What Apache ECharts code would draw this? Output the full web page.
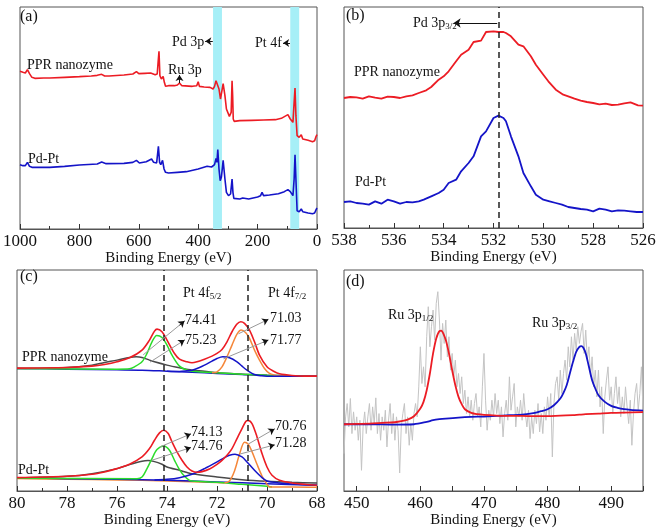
<!DOCTYPE html>
<html><head><meta charset="utf-8">
<script src="https://cdn.jsdelivr.net/npm/echarts@6/dist/echarts.min.js"></script>
<style>html,body{margin:0;padding:0;background:#fff}#c{width:661px;height:532px}</style>
</head><body><div id="c"></div><script>
// ---------- Panel (a): XPS survey [binding energy eV, intensity a.u.]
const surveyPPR = [[1000,473],[990,470],[982,468],[975,478],[968,466],[960,455],[950,452],[920,453],[900,453],[850,455],[800,457],[760,459],[740,461],[725,464],[715,459],[700,459],[650,462],[620,465],[608,472],[600,466],[580,467],[560,468],[545,463],[538,465],[535,500],[532,533],[529,460],[524,450],[518,458],[514,440],[510,428],[500,430],[480,430],[470,432],[463,438],[455,430],[420,428],[405,430],[400,442],[396,428],[380,426],[360,425],[350,420],[345,428],[340,445],[334,450],[330,420],[325,390],[321,395],[316,436],[313,436],[310,400],[305,360],[295,338],[291,336],[289,350],[286,445],[284,400],[282,330],[279,323],[260,325],[220,326],[180,327],[140,328],[120,332],[98,343],[90,330],[81,320],[77,380],[74,423],[71,340],[67,280],[60,275],[53,283],[48,270],[30,266],[15,262],[8,265],[3,278],[0,283]];
const surveyPdPt = [[1000,193],[990,190],[982,190],[975,200],[968,188],[960,185],[900,185],[850,188],[800,192],[740,195],[725,201],[710,196],[650,197],[620,200],[608,206],[598,198],[575,202],[557,210],[550,200],[540,198],[534,248],[530,200],[526,193],[520,206],[515,180],[510,170],[500,168],[470,170],[440,172],[400,180],[370,188],[355,186],[345,193],[340,212],[337,200],[334,238],[330,180],[326,145],[322,155],[316,206],[313,200],[310,150],[305,110],[298,100],[291,105],[286,150],[283,110],[280,92],[260,90],[250,93],[230,90],[200,96],[190,100],[185,110],[180,100],[160,102],[130,106],[110,112],[98,118],[90,112],[81,100],[77,150],[74,223],[71,150],[67,55],[60,52],[53,60],[48,52],[30,48],[15,46],[8,48],[3,58],[0,63]];
const surveyBands = [[350,320],[90,60]];

// ---------- Panel (b): Pd 3p3/2 region
const pdPPR = [[538,390],[537.75,393],[537.5,392],[537.25,388],[537,395],[536.75,391],[536.5,388],[536.25,394],[536,393],[535.75,390],[535.5,395],[535.25,398],[535,405],[534.7,413],[534.5,423],[534.2,445],[534,455],[533.8,470],[533.5,500],[533.3,520],[533,535],[532.8,558],[532.5,562],[532.3,588],[532,590],[531.8,588],[531.6,588],[531.5,585],[531.3,575],[531,550],[530.8,545],[530.5,515],[530.3,490],[530,460],[529.8,440],[529.5,415],[529.2,400],[529,395],[528.75,388],[528.5,382],[528.25,378],[528,375],[527.75,371],[527.5,373],[527.25,369],[527,370],[526.75,374],[526.5,377],[526.2,368],[526,367]];
const pdPdPt = [[538,78],[537.75,80],[537.5,75],[537.25,73],[537,70],[536.75,80],[536.5,73],[536.25,85],[536,80],[535.75,73],[535.5,78],[535.25,77],[535,80],[534.8,85],[534.5,95],[534.2,105],[534,115],[533.8,135],[533.5,145],[533.3,170],[533,195],[532.8,215],[532.5,275],[532.3,290],[532,330],[531.8,337],[531.6,330],[531.5,320],[531.3,275],[531,215],[530.8,165],[530.5,125],[530.3,100],[530,85],[529.75,80],[529.5,75],[529.25,70],[529,63],[528.75,60],[528.5,57],[528.25,55],[528,50],[527.75,58],[527.5,55],[527.25,50],[527,53],[526.75,52],[526.5,50],[526.25,48],[526,48]];
const pdRef = 531.8;

// ---------- Panel (c): Pt 4f fits
const ptPPR_env = [[80,368],[78,370],[77,374],[76.5,379],[76,387],[75.5,399],[75,422],[74.7,452],[74.5,479],[74.4,485],[74.2,477],[74,452],[73.7,412],[73.5,395],[73.2,387],[73,384],[72.8,387],[72.5,395],[72.2,404],[72,412],[71.8,424],[71.6,447],[71.4,477],[71.2,500],[71.05,507],[70.9,502],[70.7,482],[70.5,447],[70.3,407],[70,372],[69.7,357],[69.5,351],[69,346],[68.5,344],[68,344]];
const ptPPR_bg = [[80,367],[78,365],[76,363],[75,362],[74,359],[73,356],[72,352],[71,349],[70,346],[69,345],[68,344]];
const ptPPR_7441 = [[80,367],[76,365],[75.5,366],[75.3,372],[75,387],[74.8,412],[74.6,447],[74.41,466],[74.2,460],[74,437],[73.8,407],[73.5,374],[73.2,362],[73,359],[72,354],[71,350],[70,347],[69,345],[68,344]];
const ptPPR_7523 = [[80,367],[78,370],[77,377],[76.5,385],[76,392],[75.5,400],[75.23,402],[75,400],[74.7,392],[74.5,387],[74,377],[73.5,369],[73,362],[72.5,359],[72,354],[71,350],[70,347],[68,344]];
const ptPPR_7103 = [[72.2,354],[72,357],[71.8,372],[71.6,402],[71.4,437],[71.2,470],[71.03,482],[70.85,474],[70.7,457],[70.5,422],[70.3,392],[70.1,367],[69.9,352],[69.7,347],[69.5,345],[69,344],[68,344]];
const ptPPR_7177 = [[74,359],[73.5,358],[73.2,360],[73,362],[72.7,370],[72.5,377],[72.2,389],[72,397],[71.77,402],[71.5,399],[71.2,387],[71,374],[70.8,362],[70.5,349],[70.2,345],[70,344],[68,344]];

const ptPdPt_env = [[80,40],[78,44],[77,50],[76.5,57],[76,67],[75.5,80],[75,102],[74.7,127],[74.5,152],[74.3,174],[74.13,182],[73.95,172],[73.8,147],[73.6,117],[73.4,92],[73.2,72],[73,60],[72.8,56],[72.6,58],[72.3,66],[72,80],[71.8,92],[71.6,107],[71.4,127],[71.2,157],[71,187],[70.85,208],[70.76,211],[70.6,202],[70.4,162],[70.2,112],[70,72],[69.8,47],[69.5,32],[69,24],[68.5,20],[68,17]];
const ptPdPt_bg = [[80,39],[78,37],[76,35],[74,32],[72,27],[70,22],[68,17]];
const ptPdPt_bg2 = [[80,37],[78,35],[76,33],[74,30],[72,25],[71.7,24]];
const ptPdPt_7413 = [[80,38],[75.2,37],[75,42],[74.8,67],[74.6,97],[74.4,124],[74.13,135],[73.9,122],[73.7,92],[73.5,64],[73.3,44],[73.1,32],[73,30],[72,26],[71,20],[70,14],[69.8,12]];
const ptPdPt_7476 = [[80,39],[78,44],[77,52],[76,67],[75.5,79],[75,89],[74.76,91],[74.5,88],[74.2,80],[74,72],[73.5,62],[73,52],[72,42],[71,34],[70,29],[69,26],[68,24]];
const ptPdPt_7076 = [[71.7,24],[71.5,30],[71.3,60],[71.1,110],[70.9,146],[70.75,140],[70.6,118],[70.4,80],[70.2,45],[70,20],[69.9,12],[69,12],[68,11]];
const ptPdPt_7128 = [[74.5,33],[74,35],[73.5,40],[73,50],[72.5,67],[72,87],[71.7,100],[71.5,107],[71.28,110],[71,102],[70.8,87],[70.5,62],[70.2,40],[70,30],[69.5,24],[69,21],[68,17]];
const ptRefs = [74.13, 70.76];
const ptPeakLabels = ['74.41','75.23','71.03','71.77','74.13','74.76','70.76','71.28'];

// ---------- Panel (d): Ru 3p
const ruRaw = [[448,112],[448.25,222],[448.5,262],[448.75,192],[449,277],[449.25,172],[449.5,237],[449.75,182],[450,222],[450.25,152],[450.5,212],[450.75,62],[451,192],[451.25,237],[451.5,172],[451.75,222],[452,262],[452.25,182],[452.5,252],[452.75,202],[453,279],[453.25,172],[453.5,232],[453.75,152],[454,222],[454.25,182],[454.5,242],[454.75,132],[455,212],[455.25,262],[455.5,172],[455.75,232],[456,152],[456.25,222],[456.5,182],[456.75,54],[457,192],[457.25,232],[457.5,262],[457.75,172],[458,222],[458.25,137],[458.5,202],[458.75,152],[459,232],[459.25,262],[459.5,222],[459.75,312],[460,432],[460.25,322],[460.5,372],[460.75,312],[461,462],[461.25,552],[461.5,432],[461.75,492],[462,542],[462.25,452],[462.5,562],[462.75,597],[463,512],[463.25,392],[463.5,502],[463.75,442],[464,512],[464.25,402],[464.5,462],[464.75,362],[465,412],[465.25,342],[465.5,392],[465.75,312],[466,352],[466.25,292],[466.5,342],[466.75,262],[467,302],[467.25,232],[467.5,282],[467.75,222],[468,272],[468.25,212],[468.5,262],[468.75,292],[469,222],[469.25,252],[469.5,192],[469.75,312],[470,412],[470.25,272],[470.5,182],[470.75,242],[471,212],[471.25,272],[471.5,222],[471.75,292],[472,232],[472.25,272],[472.5,202],[472.75,252],[473,162],[473.25,232],[473.5,272],[473.75,212],[474,342],[474.25,242],[474.5,282],[474.75,322],[475,192],[475.25,252],[475.5,222],[475.75,272],[476,212],[476.25,292],[476.5,232],[476.75,192],[477,242],[477.25,157],[477.5,222],[477.75,172],[478,242],[478.25,202],[478.5,262],[478.75,177],[479,232],[479.25,172],[479.5,252],[479.75,212],[480,282],[480.25,222],[480.5,292],[480.75,102],[481,262],[481.25,322],[481.5,342],[481.75,272],[482,362],[482.25,292],[482.5,352],[482.75,392],[483,332],[483.25,432],[483.5,372],[483.75,462],[484,392],[484.25,472],[484.5,422],[484.75,492],[485,442],[485.25,477],[485.5,502],[485.75,412],[486,482],[486.25,392],[486.5,432],[486.75,342],[487,402],[487.25,312],[487.5,362],[487.75,282],[488,362],[488.25,252],[488.5,312],[488.75,172],[489,282],[489.25,332],[489.5,372],[489.75,272],[490,312],[490.25,232],[490.5,292],[490.75,342],[491,262],[491.25,312],[491.5,222],[491.75,282],[492,232],[492.25,312],[492.5,252],[492.75,202],[493,272],[493.25,137],[493.5,232],[493.75,292],[494,322],[494.25,242],[494.5,292],[494.75,372],[495,242]];
const ruFit12 = [[448,200],[450,201],[452,202],[454,204],[456,206],[457,209],[458,214],[459,224],[460,247],[460.5,267],[461,302],[461.5,352],[462,412],[462.5,457],[463,479],[463.3,480],[463.6,472],[464,452],[464.5,412],[465,362],[465.5,317],[466,282],[466.5,260],[467,245],[468,234],[469,230],[470,228],[472,226],[474,225],[476,225],[478,224],[480,224],[482,226],[484,227],[485,229],[486,230],[488,232],[490,234],[492,235],[495,236]];
const ruFit32 = [[448,200],[452,200],[456,199],[459,200],[461,207],[462,212],[463,215],[464,217],[466,220],[468,222],[470,223],[472,225],[474,227],[476,229],[478,234],[479,239],[480,245],[481,257],[482,277],[482.5,294],[483,317],[483.5,352],[484,387],[484.5,417],[485,432],[485.3,434],[485.6,430],[486,412],[486.5,372],[487,332],[487.5,307],[488,287],[489,267],[490,255],[491,249],[492,245],[493,243],[495,241]];
const ruTicks = [450,460,470,480,490];
const ruMinor = [450,455,460,465,470,475,480,485,490,495];

// ---------- styling
const FONT = "'Liberation Serif','Times New Roman',serif";
const RED = '#ec1c24', BLUE = '#1414c8', GREEN = '#2bdc2b', ORANGE = '#f5873a', DARK = '#4a4a4a';
const FRAME = '#555';

function grid(l, t, w, h) { return {left:l, top:t, width:w, height:h, show:true, borderColor:FRAME, borderWidth:1, backgroundColor:'transparent'}; }
function xAx(gi, min, max, interval, extra) {
  return Object.assign({
    gridIndex:gi, type:'value', min:min, max:max, interval:interval, inverse:true,
    axisLine:{lineStyle:{color:FRAME, width:1}},
    axisTick:{inside:true, length:5, lineStyle:{color:'#333'}},
    minorTick:{show:true, splitNumber:2, length:3, lineStyle:{color:'#333'}},
    splitLine:{show:false}, minorSplitLine:{show:false},
    axisLabel:{fontFamily:FONT, fontSize:17, color:'#111', margin:4, formatter: v => String(v)},
    name:'Binding Energy (eV)', nameLocation:'middle', nameGap:21,
    nameTextStyle:{fontFamily:FONT, fontSize:15, color:'#111'}
  }, extra || {});
}
function yAx(gi, max) { return {gridIndex:gi, type:'value', min:0, max:max, show:false}; }
function line(gi, data, color, width, extra) {
  return Object.assign({type:'line', xAxisIndex:gi, yAxisIndex:gi, data:data, symbol:'none', smooth:false,
    lineStyle:{color:color, width:width}, z:3, silent:true}, extra || {});
}
function arrowItems(p0, p1, lineColor, headColor) {
  const f = 0.12;
  const h = [p1[0] + (p0[0]-p1[0])*f, p1[1] + (p0[1]-p1[1])*f];
  return [
    [{coord:p0, symbol:'none', lineStyle:{color:lineColor, width:1, type:'solid'}}, {coord:p1, symbol:'none'}],
    [{coord:h, symbol:'none', lineStyle:{color:headColor, width:1, type:'solid'}}, {coord:p1, symbol:'arrow'}]
  ];
}
function annot(gi, items, size) {
  return {type:'line', xAxisIndex:gi, yAxisIndex:gi, data:[], z:5, silent:true,
    markLine:{silent:true, symbol:['none','arrow'], symbolSize:size||7, label:{show:false}, animation:false, data:items}};
}

const series = [];
// (a)
series.push({type:'line', xAxisIndex:0, yAxisIndex:0, data:[], z:1, silent:true,
  markArea:{silent:true, itemStyle:{color:'#a6eff7'}, data: surveyBands.map(b => [{xAxis:b[0]},{xAxis:b[1]}])}});
series.push(line(0, surveyPPR, RED, 1.6));
series.push(line(0, surveyPdPt, BLUE, 1.6));
series.push(annot(0, [].concat(
  arrowItems([351,563],[376,563],'#111','#111'),
  arrowItems([91,558],[114,558],'#111','#111'),
  arrowItems([463,438],[463,462],'#111','#111')), 6));
// (b)
series.push(line(1, pdPPR, RED, 1.8));
series.push(line(1, pdPdPt, BLUE, 1.8));
series.push({type:'line', xAxisIndex:1, yAxisIndex:1, data:[], z:4, silent:true,
  markLine:{silent:true, symbol:'none', label:{show:false}, lineStyle:{color:'#222', type:[6,4], width:1.5}, data:[{xAxis:pdRef}]}});
series.push(annot(1, arrowItems([531.85,615],[533.6,615],'#111','#111'), 7));
// (c)
const SM = 0.3;
series.push(line(2, ptPPR_bg, BLUE, 1.5, {smooth:SM}));
series.push(line(2, ptPPR_7523, DARK, 1.5, {smooth:SM}));
series.push(line(2, ptPPR_7441, GREEN, 1.5, {smooth:SM}));
series.push(line(2, ptPPR_7103, ORANGE, 1.5, {smooth:SM}));
series.push(line(2, ptPPR_7177, BLUE, 1.5, {smooth:SM}));
series.push(line(2, ptPPR_env, RED, 1.6, {smooth:SM}));
series.push(line(2, ptPdPt_bg2, ORANGE, 1.3, {smooth:SM}));
series.push(line(2, ptPdPt_bg, BLUE, 1.5, {smooth:SM}));
series.push(line(2, ptPdPt_7476, DARK, 1.5, {smooth:SM}));
series.push(line(2, ptPdPt_7413, GREEN, 1.5, {smooth:SM}));
series.push(line(2, ptPdPt_7076, ORANGE, 1.5, {smooth:SM}));
series.push(line(2, ptPdPt_7128, BLUE, 1.5, {smooth:SM}));
series.push(line(2, ptPdPt_env, RED, 1.6, {smooth:SM}));
series.push({type:'line', xAxisIndex:2, yAxisIndex:2, data:[], z:4, silent:true,
  markLine:{silent:true, symbol:'none', label:{show:false}, lineStyle:{color:'#222', type:[6,4], width:1.5}, data: ptRefs.map(v => ({xAxis:v}))}});
series.push(annot(2, [].concat(
  arrowItems([74.95,408],[73.3,509],'#999','#111'),
  arrowItems([74.68,386],[73.3,452],'#999','#111'),
  arrowItems([71.14,471],[69.95,514],'#999','#111'),
  arrowItems([71.74,396],[69.95,452],'#999','#111'),
  arrowItems([74.28,132],[73.05,171],'#999','#111'),
  arrowItems([74.61,92],[73.05,130],'#999','#111'),
  arrowItems([70.74,141],[69.7,186],'#999','#111'),
  arrowItems([71.07,111],[69.7,138],'#999','#111')), 6));
// (d)
series.push(line(3, ruRaw, '#c4c4c4', 1));
series.push(line(3, ruFit32, BLUE, 1.8, {smooth:0.3}));
series.push(line(3, ruFit12, RED, 1.8, {smooth:0.3}));

function txt(x, y, text, size, rich) {
  const st = {text:text, font: size + 'px ' + FONT, fill:'#111', verticalAlign:'middle', align:'left'};
  if (rich) st.rich = rich;
  return {type:'text', x:x, y:y, z:50, silent:true, style:st};
}
const subRich = {n:{fontFamily:FONT, fontSize:14, fill:'#111'}, s:{fontFamily:FONT, fontSize:9, fill:'#111', padding:[8,0,0,0]}};

const graphic = [
  txt(20, 17, '(a)', 16),
  txt(27, 65, 'PPR nanozyme', 14),
  txt(28, 159, 'Pd-Pt', 14),
  txt(172, 42, 'Pd 3p', 14),
  txt(168, 70, 'Ru 3p', 14),
  txt(255, 43, 'Pt 4f', 14),
  txt(346, 16, '(b)', 16),
  {type:'text', x:413, y:23, z:50, silent:true, style:{text:'{n|Pd 3p}{s|3/2}', rich:subRich, verticalAlign:'middle'}},
  txt(354, 72, 'PPR nanozyme', 14),
  txt(355, 182, 'Pd-Pt', 14),
  txt(20, 277, '(c)', 16),
  {type:'text', x:183, y:293, z:50, silent:true, style:{text:'{n|Pt 4f}{s|5/2}', rich:subRich, verticalAlign:'middle'}},
  {type:'text', x:268, y:293, z:50, silent:true, style:{text:'{n|Pt 4f}{s|7/2}', rich:subRich, verticalAlign:'middle'}},
  txt(185, 320, ptPeakLabels[0], 14),
  txt(185, 340, ptPeakLabels[1], 14),
  txt(270, 318, ptPeakLabels[2], 14),
  txt(270, 340, ptPeakLabels[3], 14),
  txt(191, 432, ptPeakLabels[4], 14),
  txt(191, 446, ptPeakLabels[5], 14),
  txt(275, 426, ptPeakLabels[6], 14),
  txt(275, 443, ptPeakLabels[7], 14),
  txt(22, 357, 'PPR nanozyme', 14),
  txt(18, 470, 'Pd-Pt', 14),
  txt(346, 282, '(d)', 16),
  {type:'text', x:388, y:315, z:50, silent:true, style:{text:'{n|Ru 3p}{s|1/2}', rich:subRich, verticalAlign:'middle'}},
  {type:'text', x:532, y:323, z:50, silent:true, style:{text:'{n|Ru 3p}{s|3/2}', rich:subRich, verticalAlign:'middle'}}
];

const option = {
  animation:false,
  backgroundColor:'#fff',
  grid:[grid(17,7,300,222), grid(344,7,299,221), grid(17,270,300,221), grid(344,270,299,221)],
  xAxis:[
    xAx(0, 0, 1000, 200),
    xAx(1, 526, 538, 2),
    xAx(2, 68, 80, 2),
    xAx(3, 448, 495, null, {inverse:false, interval:undefined,
      axisLabel:{fontFamily:FONT, fontSize:17, color:'#111', margin:4, customValues:ruTicks},
      axisTick:{inside:true, length:5, lineStyle:{color:'#333'}, customValues:ruMinor},
      minorTick:{show:false}})
  ],
  yAxis:[yAx(0,666), yAx(1,663), yAx(2,662), yAx(3,662)],
  series: series,
  graphic: graphic
};
const chart = echarts.init(document.getElementById('c'), null, {renderer:'canvas'});
chart.setOption(option);
</script></body></html>
